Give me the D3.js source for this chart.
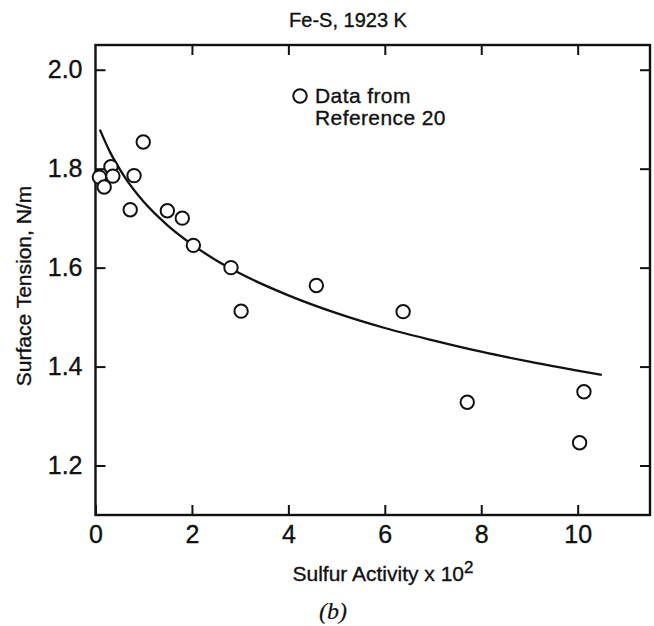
<!DOCTYPE html>
<html>
<head>
<meta charset="utf-8">
<script src="https://cdn.jsdelivr.net/npm/d3@7"></script>
<style>
  html, body { margin: 0; padding: 0; background: #fff; }
  svg text { font-family: "Liberation Sans", Arial, Helvetica, sans-serif; fill: #111; stroke: #111; stroke-width: 0.35px; }
</style>
</head>
<body>
<svg id="chart" width="654" height="626"></svg>
<script>
// Fe-S surface tension at 1923 K versus sulfur activity (x 10^2)
const activity = [0.08, 0.18, 0.32, 0.36, 0.72, 0.80, 0.99, 1.49, 1.80, 2.03, 2.81, 3.02, 4.58, 6.38, 7.71, 10.04, 10.13];
const tension  = [1.783, 1.763, 1.804, 1.785, 1.717, 1.786, 1.854, 1.715, 1.700, 1.645, 1.600, 1.512, 1.564, 1.511, 1.328, 1.246, 1.349];

// fitted curve, read along its length
const curveActivity = [0.09, 0.3, 0.6, 1.0, 1.5, 2.0, 2.5, 3.0, 4.0, 5.0, 6.0, 7.0, 8.0, 9.0, 10.0, 10.5];
const curveTension  = [1.879, 1.834, 1.784, 1.733, 1.685, 1.647, 1.615, 1.588, 1.544, 1.508, 1.478, 1.453, 1.430, 1.410, 1.392, 1.383];

const xTicks = [0, 2, 4, 6, 8, 10];
const yTicks = [1.2, 1.4, 1.6, 1.8, 2.0];

const svg = d3.select("#chart");
const plotL = 95.5, plotR = 650, plotT = 45, plotB = 515;

const x = d3.scaleLinear().domain([0, 11.5]).range([plotL, plotR]);
const y = d3.scaleLinear().domain([1.1, 2.05]).range([plotB, plotT]);

// axes: ticks point inward on all four sides
const tickLen = 10;
const axStyle = g => {
  g.selectAll(".domain").remove();
  g.selectAll(".tick line").attr("stroke", "#111").attr("stroke-width", 2);
};
const labelStyle = g => g.selectAll(".tick text")
  .attr("font-size", 25)
  .attr("font-family", "Liberation Sans, Arial, sans-serif")
  .attr("fill", "#111");

svg.append("g").attr("transform", `translate(0,${plotB})`)
  .call(d3.axisBottom(x).tickValues(xTicks).tickSizeInner(-tickLen).tickSizeOuter(0).tickPadding(10).tickFormat(d3.format("d")))
  .call(axStyle)
  .call(labelStyle);

svg.append("g").attr("transform", `translate(0,${plotT})`)
  .call(d3.axisTop(x).tickValues(xTicks.slice(1)).tickSizeInner(-tickLen).tickSizeOuter(0).tickFormat(""))
  .call(axStyle);

svg.append("g").attr("transform", `translate(${plotL},0)`)
  .call(d3.axisLeft(y).tickValues(yTicks).tickSizeInner(-tickLen).tickSizeOuter(0).tickPadding(13).tickFormat(d3.format(".1f")))
  .call(axStyle)
  .call(labelStyle);

svg.append("g").attr("transform", `translate(${plotR},0)`)
  .call(d3.axisRight(y).tickValues(yTicks).tickSizeInner(-tickLen).tickSizeOuter(0).tickFormat(""))
  .call(axStyle);

// frame
svg.append("rect")
  .attr("x", plotL).attr("y", plotT)
  .attr("width", plotR - plotL).attr("height", plotB - plotT)
  .attr("fill", "none").attr("stroke", "#111").attr("stroke-width", 2.4);

// fitted curve
const line = d3.line()
  .x((d, i) => x(curveActivity[i]))
  .y(d => y(d))
  .curve(d3.curveMonotoneX);

svg.append("path")
  .datum(curveTension)
  .attr("d", line)
  .attr("fill", "none")
  .attr("stroke", "#111")
  .attr("stroke-width", 2.3);

// measured points
svg.append("g").selectAll("circle")
  .data(activity)
  .join("circle")
  .attr("cx", d => x(d))
  .attr("cy", (d, i) => y(tension[i]))
  .attr("r", 6.7)
  .attr("fill", "#fff")
  .attr("stroke", "#111")
  .attr("stroke-width", 2);

// legend
const lg = svg.append("g");
lg.append("circle").attr("cx", 300).attr("cy", 96).attr("r", 6.7)
  .attr("fill", "#fff").attr("stroke", "#111").attr("stroke-width", 2);
lg.append("text").attr("x", 315).attr("y", 103).attr("font-size", 21).attr("letter-spacing", 0.4).text("Data from");
lg.append("text").attr("x", 315).attr("y", 125).attr("font-size", 21).attr("letter-spacing", 0.4).text("Reference 20");

// title
svg.append("text").attr("x", 348).attr("y", 27).attr("text-anchor", "middle")
  .attr("font-size", 20).text("Fe-S, 1923 K");

// axis titles
const xt = svg.append("text").attr("x", 383).attr("y", 581).attr("text-anchor", "middle").attr("font-size", 21);
xt.append("tspan").text("Sulfur Activity x 10");
xt.append("tspan").attr("dy", -8).attr("font-size", 17).text("2");

svg.append("text")
  .attr("transform", "translate(31,286) rotate(-90)")
  .attr("text-anchor", "middle").attr("font-size", 21)
  .text("Surface Tension, N/m");

// panel label
svg.append("text").attr("x", 333).attr("y", 619).attr("text-anchor", "middle")
  .attr("font-size", 24).attr("font-style", "italic")
  .style("font-family", "'Liberation Serif', 'Times New Roman', serif")
  .style("stroke-width", "0.2px")
  .text("(b)");
</script>
</body>
</html>
